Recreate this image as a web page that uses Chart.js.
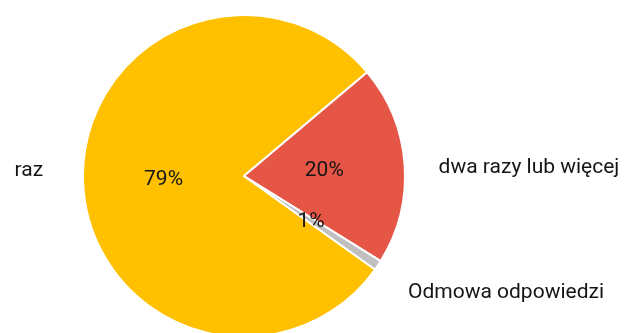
<!DOCTYPE html>
<html>
<head>
<meta charset="utf-8">
<script src="https://cdn.jsdelivr.net/npm/chart.js@4/dist/chart.umd.min.js"></script>
<style>
  html, body { margin: 0; padding: 0; background: #fff; }
  #wrap { width: 624px; height: 333px; position: relative; }
</style>
</head>
<body>
<div id="wrap"><canvas id="pie"></canvas></div>
<script>
// ===== Data =====
const labels = ["raz", "dwa razy lub więcej", "Odmowa odpowiedzi"];
const values = [79, 20, 1];
const percentLabels = ["79%", "20%", "1%"];
const colors = ["#FFC000", "#E65647", "#C0C0C0"];

// gaps / vertical nudges for outside labels (px)
const labelGap = [40, 34, 30];
const labelNudge = [-12, 3, 27];

const FONT = "Roboto, 'Noto Sans', sans-serif";

// ===== Label plugin =====
const sliceText = {
  id: "sliceText",
  afterDatasetsDraw(chart) {
    const ctx = chart.ctx;
    const meta = chart.getDatasetMeta(0);
    ctx.save();
    ctx.fillStyle = "#151515";
    ctx.font = "21px " + FONT;
    ctx.textBaseline = "middle";
    meta.data.forEach((arc, i) => {
      const { x, y, startAngle, endAngle, outerRadius } = arc.getProps(
        ["x", "y", "startAngle", "endAngle", "outerRadius"], true);
      const mid = (startAngle + endAngle) / 2;
      const c = Math.cos(mid), s = Math.sin(mid);

      // percent inside
      ctx.textAlign = "center";
      const ri = outerRadius * 0.5;
      ctx.fillText(percentLabels[i], x + ri * c, y + ri * s + 1);

      // category outside
      const ex = x + outerRadius * c;
      const ey = y + outerRadius * s + labelNudge[i];
      if (c >= 0) {
        ctx.textAlign = "left";
        ctx.fillText(labels[i], ex + labelGap[i], ey);
      } else {
        ctx.textAlign = "right";
        ctx.fillText(labels[i], ex - labelGap[i], ey);
      }
    });
    ctx.restore();
  },
};

new Chart(document.getElementById("pie"), {
  type: "pie",
  data: {
    labels,
    datasets: [{
      data: values,
      backgroundColor: colors,
      borderColor: "#ffffff",
      borderWidth: 2,
      radius: 161,
    }],
  },
  options: {
    responsive: true,
    maintainAspectRatio: false,
    animation: false,
    rotation: 125.5,
    layout: { padding: { left: 0, right: 136, top: 19, bottom: 0 } },
    plugins: {
      legend: { display: false },
      tooltip: { enabled: false },
    },
  },
  plugins: [sliceText],
});
</script>
</body>
</html>
